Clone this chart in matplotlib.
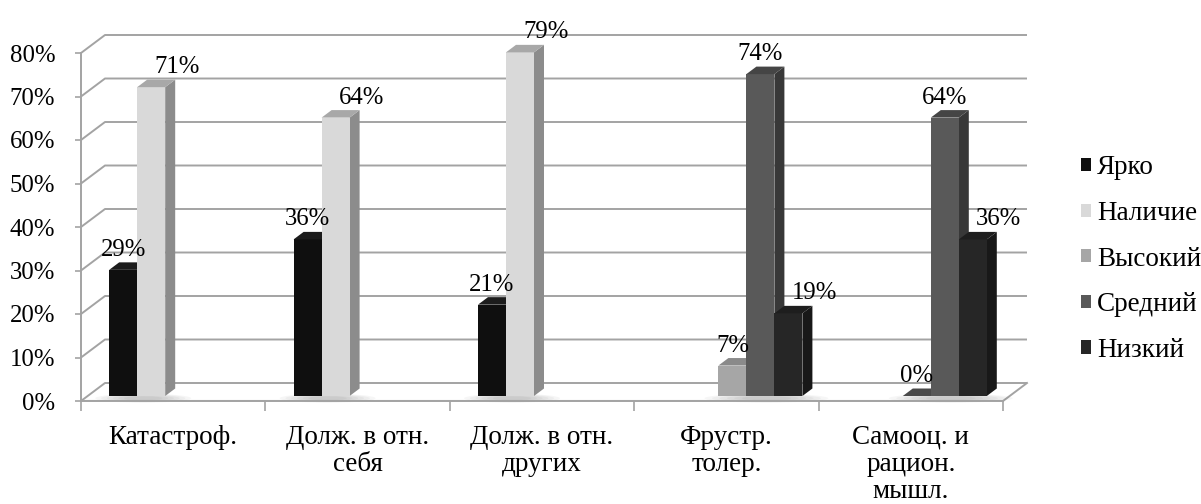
import matplotlib
matplotlib.use("Agg")
import matplotlib.pyplot as plt
from matplotlib.patches import Polygon, Patch, Ellipse
from matplotlib.ticker import FixedLocator, NullFormatter

# ---------------- data ----------------
categories = ["Катастроф.", "Долж. в отн.\nсебя", "Долж. в отн.\nдругих",
              "Фрустр.\nтолер.", "Самооц. и\nрацион.\nмышл."]
series_names = ["Ярко", "Наличие", "Высокий", "Средний", "Низкий"]
yarko    = [29, 36, 21, None, None]
nalichie = [71, 64, 79, None, None]
vysokiy  = [None, None, None, 7, 0]
sredniy  = [None, None, None, 74, 64]
nizkiy   = [None, None, None, 19, 36]
series_values = [yarko, nalichie, vysokiy, sredniy, nizkiy]
y_ticks = [0, 10, 20, 30, 40, 50, 60, 70, 80]

# ---------------- style ----------------
front_colors = ["#0f0f0f", "#d9d9d9", "#a6a6a6", "#595959", "#262626"]
side_colors  = ["#050505", "#8c8c8c", "#6e6e6e", "#383838", "#181818"]
top_colors   = ["#1c1c1c", "#a8a8a8", "#8a8a8a", "#454545", "#1e1e1e"]
label_shift  = [0.0, 0.14, 0.0, 0.0, 0.14]   # label horizontal shift (category units)
GRID = "#a3a3a3"
FONT = "Liberation Serif"
FS_NUM = 17.8
FS_TXT = 19.5

W_PX, H_PX = 1201, 504
fig = plt.figure(figsize=(W_PX / 100, H_PX / 100), dpi=100)
plt.rcParams["font.family"] = [FONT, "DejaVu Serif"]

# front plane of the 3D box
L, R, B, T = 81, 1003, 401, 53
ax = fig.add_axes([L / W_PX, (H_PX - B) / H_PX, (R - L) / W_PX, (B - T) / H_PX])
ax.set_xlim(0, len(categories))
ax.set_ylim(0, 80)
px_x = (R - L) / len(categories)
px_y = (B - T) / 80.0

# depth geometry (pixels converted to data units)
BX, BY = 24 / px_x, 18 / px_y        # back wall offset
SX, SY = 6 / px_x, 5 / px_y          # bar front plane offset
DX, DY = 10 / px_x, 7.5 / px_y       # bar depth
SW = 28 / px_x                       # slot width
n_cat = len(categories)
n_ser = len(series_names)

# gridlines (side wall diagonal + back wall horizontal)
for v in y_ticks:
    ax.plot([0, BX, n_cat + BX], [v, v + BY, v + BY], color=GRID, lw=1.4,
            clip_on=False, zorder=1, solid_capstyle="butt")
# floor plate: top surface edge and right edge
ax.plot([0, n_cat], [1 / px_y, 1 / px_y], color="#c8c8c8", lw=0.8, clip_on=False, zorder=1)
ax.plot([n_cat, n_cat + BX], [0, BY], color=GRID, lw=1.4, clip_on=False, zorder=1)

# bars
for i in range(n_cat):
    present = [s for s in range(n_ser) if series_values[s][i] is not None]
    if present:
        xs0 = i + 0.5 + (present[0] - n_ser / 2) * SW + SX
        xs1 = i + 0.5 + (present[-1] + 1 - n_ser / 2) * SW + SX
        cx = (xs0 + xs1) / 2 + 6 / px_x
        wd = (xs1 - xs0) + 40 / px_x
        for k in range(6):
            ax.add_patch(Ellipse((cx, SY * 0.55), wd * (1 - k * 0.12), (9 - k) / px_y,
                                 facecolor="#000000", alpha=0.035, edgecolor="none",
                                 zorder=2, clip_on=False))
    for s in range(n_ser):
        v = series_values[s][i]
        if v is None:
            continue
        x0 = i + 0.5 + (s - n_ser / 2) * SW + SX
        x1 = x0 + SW
        b = SY
        t = SY + v
        z = 3 + i * 10 + s
        # side face
        ax.add_patch(Polygon([(x1, b), (x1 + DX, b + DY), (x1 + DX, t + DY), (x1, t)],
                             closed=True, facecolor=side_colors[s], edgecolor="none",
                             zorder=z, clip_on=False))
        # front face
        ax.bar(x0, v, width=SW, bottom=b, align="edge", color=front_colors[s],
               edgecolor="none", zorder=z + 0.1, clip_on=False)
        # top face
        ax.add_patch(Polygon([(x0, t), (x0 + DX, t + DY), (x1 + DX, t + DY), (x1, t)],
                             closed=True, facecolor=top_colors[s] if v > 0 else "#4a4a4a",
                             edgecolor="none", zorder=z + 0.2, clip_on=False))
        # value label
        ax.text(x0 + SW / 2 + label_shift[s], t + 14 / px_y, f"{v}%",
                ha="center", va="baseline", fontsize=FS_NUM, family=FONT,
                color="black", zorder=200, clip_on=False)

# axes / spines
for sp in ["top", "right"]:
    ax.spines[sp].set_visible(False)
for sp in ["left", "bottom"]:
    ax.spines[sp].set_color(GRID)
    ax.spines[sp].set_linewidth(1.4)
    ax.spines[sp].set_zorder(2)

ax.set_yticks(y_ticks)
ax.set_yticklabels([f"{v}%" for v in y_ticks], fontsize=FS_NUM, family=FONT)
ax.tick_params(axis="y", direction="out", length=4.5, width=1.2, color=GRID, pad=14)

ax.set_xticks([i + 0.5 for i in range(n_cat)])
ax.set_xticklabels(categories, fontsize=FS_TXT, family=FONT, linespacing=1.12, va="top")
ax.tick_params(axis="x", which="major", length=0, pad=17)
ax.xaxis.set_minor_locator(FixedLocator(list(range(n_cat + 1))))
ax.xaxis.set_minor_formatter(NullFormatter())
ax.tick_params(axis="x", which="minor", direction="out", length=7, width=1.2, color=GRID)

# legend
handles = [Patch(facecolor=front_colors[s], edgecolor="none") for s in range(n_ser)]
fig.legend(handles, series_names, loc="center left",
           bbox_to_anchor=(1081 / W_PX, (H_PX - 259) / H_PX),
           frameon=False, prop={"family": FONT, "size": FS_TXT},
           handlelength=0.38, handleheight=0.38, handletextpad=0.22,
           labelspacing=0.76, borderpad=0, borderaxespad=0)

fig.savefig("out.png", dpi=100)
